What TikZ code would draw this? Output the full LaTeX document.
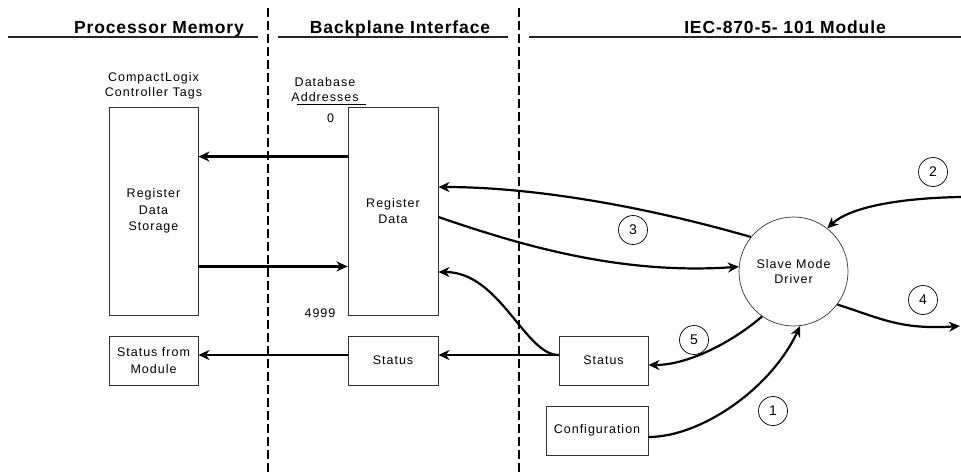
\documentclass[tikz,border=0pt]{standalone}
\usepackage{fontspec}
\setmainfont{Liberation Sans}
\newfontfamily\hdrfont[LetterSpace=5]{Liberation Sans}
\newfontfamily\lblfont[LetterSpace=8]{Liberation Sans}
\usepackage{tikz}
\usetikzlibrary{arrows.meta,positioning}
\tikzset{
  blk/.style={draw=black!80, line width=0.9pt, align=center, inner sep=0pt, minimum width=#1, minimum height=49pt, font=\lblfont\fontsize{12.5}{16.5}\selectfont},
  blk/.default=89pt,
  drv/.style={circle, draw=black!80, line width=0.7pt, minimum size=109pt, inner sep=0pt, align=center, font=\lblfont\fontsize{12.5}{15}\selectfont},
  num/.style={circle, draw, line width=0.7pt, minimum size=29pt, inner sep=0pt, font=\fontsize{14}{16}\selectfont},
  lbl/.style={align=center, inner sep=0pt, font=\lblfont\fontsize{12.5}{15}\selectfont},
  hdr/.style={anchor=base, inner sep=0pt, font=\hdrfont\bfseries\fontsize{17.5}{20}\selectfont},
  flow/.style={-{Stealth[length=11pt,width=10pt,inset=3.5pt]}, line width=2.2pt},
  sep/.style={line width=2pt, dash pattern=on 9pt off 4pt},
  rule/.style={line width=1.2pt, draw=black!85},
}

\begin{document}
\begin{tikzpicture}[x=1pt, y=-1pt]
  \useasboundingbox[fill=white] (0,0) rectangle (961,475);

  \node[hdr] (hmem) at (159,33) {Processor Memory};
  \node[hdr] (hbp) at (400,33) {Backplane Interface};
  \node[hdr] (hmod) at (785,33) {IEC-870-5- 101 Module};
  \draw[rule] (8,37) -- (258,37);
  \draw[rule] (278,37) -- (508,37);
  \draw[rule] (529,37) -- (961,37);
  \draw[sep] (268,8) -- (268,475);
  \draw[sep] (519,8) -- (519,475);

  \node[lbl] (tags) at (153.5,86) {CompactLogix\\Controller Tags};
  \node[lbl] (addr) at (325,90) {Database\\Addresses};
  \draw[line width=1pt] (297,104) -- (366,104);
  \node[lbl] (first) at (330.5,118) {0};
  \node[lbl] (last) at (320,313) {4999};

  \node[blk, minimum height=208pt] (storage) at (153.5,211) {Register\\Data\\Storage};
  \node[blk=90pt, minimum height=208pt] (regdata) at (393,211) {Register\\Data};
  \node[blk] (statmod) at (153.5,360.5) {Status from\\Module};
  \node[blk=90pt] (statbp) at (393,360.5) {Status};
  \node[blk] (statio) at (603.5,360.5) {Status};
  \node[blk=102pt] (config) at (597,430.5) {Configuration};
  \node[drv] (driver) at (793.5,271.5) {Slave Mode\\Driver};

  \node[num] (n1) at (773,411) {1};
  \node[num] (n2) at (933,172) {2};
  \node[num] (n3) at (633,230) {3};
  \node[num] (n4) at (923,300) {4};
  \node[num] (n5) at (694,340) {5};

  \coordinate (in2) at (961,197);
  \coordinate (out4) at (960,326);

  \draw[flow] ([yshift=-50pt]regdata.north west) -- ([yshift=-50pt]storage.north east);
  \draw[flow] ([yshift=49pt]storage.south east) -- ([yshift=49pt]regdata.south west);
  \draw[flow] ([yshift=5.5pt]statbp.west) -- ([yshift=5.5pt]statmod.east);
  \draw[flow] ([yshift=5.5pt]statio.west) -- ([yshift=5.5pt]statbp.east);
  \draw[flow] ([yshift=5.5pt]statio.west) .. controls (525,355) and (500,272) .. ([yshift=-61pt]regdata.east);
  \draw[flow] (driver.141) .. controls (640,205) and (530,187) .. ([yshift=24pt]regdata.east);
  \draw[flow] ([yshift=-6pt]regdata.east) .. controls (520,245) and (620,275) .. (driver.175);
  \draw[flow] (in2) .. controls (900,198) and (850,207) .. (driver.52);
  \draw[flow] (driver.-37) .. controls (880,318) and (900,330) .. (out4);
  \draw[flow] (driver.235) .. controls (735,340) and (690,365) .. ([yshift=-4.5pt]statio.east);
  \draw[flow] ([yshift=-6.5pt]config.east) .. controls (700,437) and (770,390) .. (driver.-83);
\end{tikzpicture}
\end{document}
